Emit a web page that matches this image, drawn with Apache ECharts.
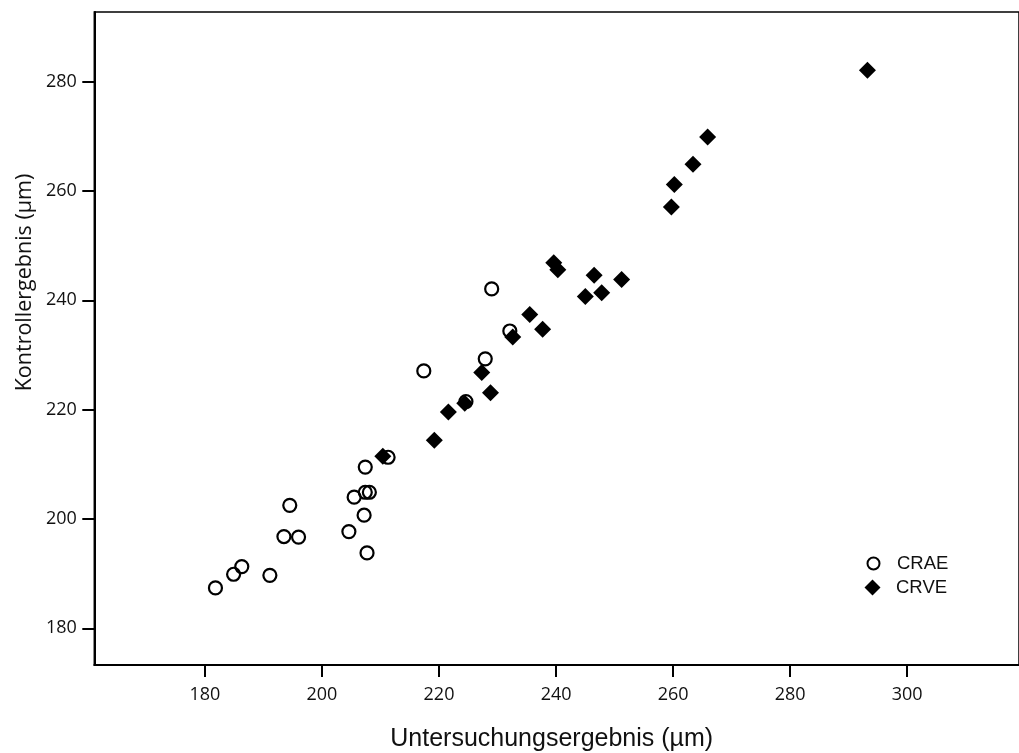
<!DOCTYPE html>
<html>
<head>
<meta charset="utf-8">
<script src="https://cdn.jsdelivr.net/npm/echarts@6/dist/echarts.min.js"></script>
<style>
html, body { margin: 0; padding: 0; background: #fff; }
#chart { width: 1019px; height: 753px; }
</style>
</head>
<body>
<div id="chart"></div>
<script>
// Serien
var seriesNames = ['CRAE', 'CRVE'];
// CRAE (Kreise)
var craeX = [181.8, 184.9, 186.3, 191.1, 193.5, 194.5, 196.0, 204.6, 207.2, 207.7,
  205.5, 207.4, 208.1, 207.4, 211.3, 217.4, 224.6, 227.9, 232.1, 229.0];
var craeY = [187.4, 189.9, 191.3, 189.7, 196.8, 202.5, 196.7, 197.7, 200.7, 193.8,
  204.0, 204.9, 204.9, 209.5, 211.3, 227.1, 221.5, 229.3, 234.4, 242.1];
// CRVE (Rauten)
var crveX = [210.4, 219.2, 221.6, 224.4, 227.3, 228.8, 232.6, 235.5, 237.7, 239.6,
  240.3, 245.0, 246.5, 247.8, 251.2, 259.7, 260.2, 263.4, 265.9, 293.2];
var crveY = [211.5, 214.4, 219.6, 221.2, 226.8, 223.1, 233.3, 237.4, 234.7, 246.9,
  245.6, 240.7, 244.6, 241.4, 243.8, 257.1, 261.2, 264.9, 269.9, 282.1];
// Achsen
var xTicks = [180, 200, 220, 240, 260, 280, 300];
var yTicks = [180, 200, 220, 240, 260, 280];

function pairs(xs, ys) {
  var out = [];
  for (var i = 0; i < xs.length; i++) out.push([xs[i], ys[i]]);
  return out;
}

var tickFont = '"Open Sans", "DejaVu Sans", sans-serif';
var arial = '"Liberation Sans", Arial, sans-serif';

var axisCommon = {
  type: 'value',
  axisLine: { show: true, lineStyle: { color: '#000', width: 2 } },
  axisTick: { show: true, inside: false, length: 12, lineStyle: { color: '#000', width: 2 } },
  splitLine: { show: false },
  axisLabel: { color: '#111', fontSize: 18, fontFamily: tickFont }
};

// legend: icon centre at x 872.5, text starting at x 896
function legendFor(name, size, top) {
  return {
    data: [name],
    orient: 'vertical', left: 872.5 - size / 2, top: top, padding: 0,
    itemWidth: size, itemHeight: size, itemGap: 0,
    textStyle: { color: '#111', fontSize: 18.5, fontFamily: arial,
      padding: [0, 0, 0, 18.5 - size / 2] }
  };
}

var option = {
  backgroundColor: '#fff',
  animation: false,
  grid: {
    left: 94.3, top: 12, bottom: 88, right: -6,
    show: true, borderColor: '#000', borderWidth: 1.5, backgroundColor: 'transparent'
  },
  xAxis: echarts.util.merge({
    min: 161.1, max: 319.1,
    axisTick: { customValues: xTicks },
    axisLabel: { customValues: xTicks, margin: 21 }
  }, axisCommon),
  yAxis: echarts.util.merge({
    min: 173.3, max: 292.75,
    axisTick: { customValues: yTicks },
    axisLabel: { customValues: yTicks, margin: 17.5 }
  }, axisCommon),
  legend: [legendFor(seriesNames[0], 12, 554), legendFor(seriesNames[1], 16, 578)],
  graphic: [{
    type: 'text', x: 551.7, y: 739,
    style: { text: 'Untersuchungsergebnis (µm)', fill: '#111', font: '25px ' + arial,
      align: 'center', verticalAlign: 'middle' }
  }, {
    type: 'text', x: 25, y: 282.5, rotation: Math.PI / 2,
    style: { text: 'Kontrollergebnis (µm)', fill: '#111', font: '21.5px ' + tickFont,
      align: 'center', verticalAlign: 'middle' }
  }],
  series: [{
    name: seriesNames[0],
    type: 'scatter',
    symbol: 'circle',
    symbolSize: 13,
    itemStyle: { color: 'rgba(255,255,255,0)', borderColor: '#000', borderWidth: 2.2, opacity: 1 },
    data: pairs(craeX, craeY)
  }, {
    name: seriesNames[1],
    type: 'scatter',
    symbol: 'diamond',
    symbolSize: 17,
    itemStyle: { color: '#000', opacity: 1 },
    data: pairs(crveX, crveY)
  }]
};

var chart = echarts.init(document.getElementById('chart'));
chart.setOption(option);
</script>
</body>
</html>
